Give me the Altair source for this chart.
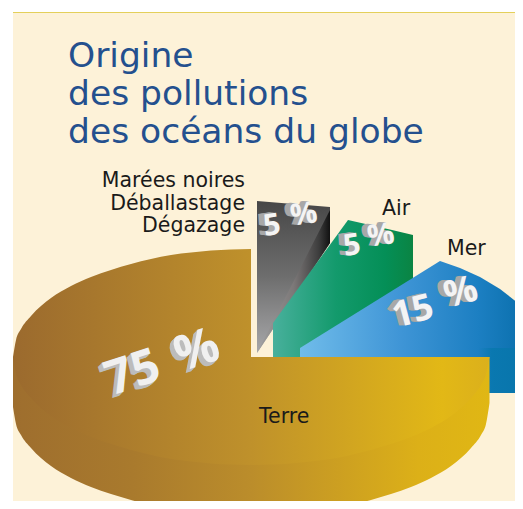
import altair as alt
import pandas as pd

FONT = "DejaVu Sans"
TITLE_LINES = ["Origine", "des pollutions", "des océans du globe"]
TITLE_BASE = [67, 105, 143]

PANEL_X = [13, 515]
PANEL_TOP = [13, 13]
PANEL_BOTTOM = [501, 501]
RULE_Y = [12, 12]

# Terre, left half of the disc
TL_X = [13, 16, 21, 31, 51, 71, 91, 111, 131, 151, 171, 191, 211, 231, 251]
TL_UP = [357, 340, 329, 316, 298, 286, 277, 270, 264, 259, 255, 252.5, 250.5, 249.4, 249]
TL_LOW = [357, 374, 385, 398, 416, 428, 437, 444, 450, 455, 459, 461.5, 463.5, 464.6, 465]
# Terre, right half of the disc
TR_X = [251, 271, 291, 311, 331, 351, 371, 391, 411, 431, 451, 471, 481, 486, 489.5]
TR_UP = [357] * 15
TR_LOW = [465, 464.6, 463.5, 461.5, 459, 455, 450, 444, 437, 428, 416, 398, 385, 374, 357]
# Terre, rim
RIM_X = [13, 16, 21, 31, 51, 71, 91, 111, 131, 151, 171, 191, 211, 231, 251, 271, 291, 311,
         331, 351, 371, 391, 411, 431, 451, 471, 481, 486, 489.5]
RIM_UP = [357] * 29
RIM_LOW = [407, 424, 435, 448, 466, 478, 487, 494, 500, 505, 508, 509, 509, 509, 509, 509, 509, 509,
           509, 505, 500, 494, 487, 478, 466, 448, 435, 424, 403]

# Mer
MER_X = [300, 440, 460, 480, 500, 523]
MER_UP = [348, 261, 268, 277, 289, 307]
MER_LOW = [348, 348, 348, 348, 348, 348]
MER_SIDE_X = [300, 523]
MER_SIDE_UP = [348, 348]
MER_SIDE_LOW = [393, 393]

# Air
AIR_X = [273, 348, 370, 392, 413]
AIR_UP = [323, 220, 225, 230, 235]
AIR_LOW = [357, 357, 357, 357, 357]

# Marées noires
NOIR_X = [257, 330]
NOIR_UP = [201, 207]
NOIR_LOW = [353, 243]
NOIR_F_X = [257, 330]
NOIR_F_UP = [353, 210]
NOIR_F_LOW = [353, 243]

LABEL_TEXT = ["Marées noires", "Déballastage", "Dégazage"]
LABEL_BASE = [187, 210, 232]
SLICE_NAMES = ["Air", "Mer", "Terre"]
SLICE_X = [382, 447, 259]
SLICE_BASE = [215, 255, 423]

PCT_TEXT = ["75", "%", "5", "%", "5", "%", "15", "%"]
PCT_X = [133, 197, 272, 304, 352, 381, 413, 461]
PCT_Y = [374, 351, 226, 215, 246, 236, 312, 293]
PCT_SIZE = [48, 49, 30, 30, 30, 30, 36, 37]
PCT_ANGLE = [342, 342, 352, 352, 352, 352, 345, 345]

xs = alt.Scale(domain=[8, 515], range=[0, 507], nice=False, zero=False)
ys = alt.Scale(domain=[8, 501], range=[0, 493], nice=False, zero=False)


def grad(stops, x1=0, y1=0, x2=1, y2=0):
    return alt.Gradient(
        gradient="linear", x1=x1, y1=y1, x2=x2, y2=y2,
        stops=[alt.GradientStop(color=c, offset=o) for o, c in stops],
    )


def shape(x, up, low, fill, interpolate="linear"):
    df = pd.DataFrame({"x": x, "up": up, "low": low})
    return alt.Chart(df).mark_area(fill=fill, interpolate=interpolate, clip=True).encode(
        x=alt.X("x:Q", scale=xs, axis=None),
        y=alt.Y("up:Q", scale=ys, axis=None),
        y2="low:Q",
    )


def text(rows, color, size, align="left", weight="normal"):
    df = pd.DataFrame(rows)
    return alt.Chart(df).mark_text(
        font=FONT, color=color, fontSize=size, align=align, baseline="alphabetic",
        fontWeight=weight,
    ).encode(
        x=alt.X("x:Q", scale=xs, axis=None),
        y=alt.Y("y:Q", scale=ys, axis=None),
        text="t:N",
    )


def pct_layer(idx, color, dx, dy):
    df = pd.DataFrame({"t": PCT_TEXT, "x": PCT_X, "y": PCT_Y, "s": PCT_SIZE, "a": PCT_ANGLE}).iloc[idx]
    return alt.Chart(df).mark_text(
        font="Open Sans", color=color, fontWeight="bold", align="center", baseline="middle", dx=dx, dy=dy,
    ).encode(
        x=alt.X("x:Q", scale=xs, axis=None),
        y=alt.Y("y:Q", scale=ys, axis=None),
        text="t:N",
        size=alt.Size("s:Q", scale=None, legend=None),
        angle=alt.Angle("a:Q", scale=None),
    )


layers = [
    shape(PANEL_X, PANEL_TOP, PANEL_BOTTOM, "#fdf2d8"),
    shape(PANEL_X, RULE_Y, PANEL_TOP, "#e4d05a"),
    shape(NOIR_X, NOIR_UP, NOIR_LOW,
          grad([(0, "#474747"), (0.5, "#6e6e6e"), (1, "#a8a8aa")], x1=0, y1=0, x2=0, y2=1)),
    shape(NOIR_F_X, NOIR_F_UP, NOIR_F_LOW,
          grad([(0, "#a0a0a0"), (0.5, "#7c7878"), (0.85, "#3c3c3c"), (1, "#111111")])),
    shape(AIR_X, AIR_UP, AIR_LOW,
          grad([(0, "#48b09c"), (0.45, "#139a6c"), (0.8, "#048f57"), (1, "#0a8443")])),
    shape(MER_SIDE_X, MER_SIDE_UP, MER_SIDE_LOW,
          grad([(0, "#70bcea"), (0.45, "#3f95d6"), (0.8, "#1c7fc2"), (0.86, "#0a78b0"), (1, "#0875ab")])),
    shape(MER_X, MER_UP, MER_LOW,
          grad([(0, "#70bcea"), (0.45, "#3f95d6"), (0.8, "#1c7fc2"), (1, "#0b70ad")])),
    shape(RIM_X, RIM_UP, RIM_LOW,
          grad([(0, "#9e6e2e"), (0.25, "#a97a2d"), (0.5, "#bb8d2b"), (0.85, "#dcb018"), (1, "#e0b714")]),
          interpolate="monotone"),
    shape(TL_X, TL_UP, TL_LOW, grad([(0, "#9b6a2e"), (1, "#bf912b")]), interpolate="monotone"),
    shape(TR_X, TR_UP, TR_LOW, grad([(0, "#bf912b"), (0.8, "#e2b816"), (1, "#dbb01c")]),
          interpolate="monotone"),
    text({"t": TITLE_LINES, "x": [68, 68, 68], "y": TITLE_BASE}, "#24508e", 34.5),
    text({"t": LABEL_TEXT, "x": [245, 245, 245], "y": LABEL_BASE}, "#1a1a1a", 20.5, align="right"),
    text({"t": SLICE_NAMES, "x": SLICE_X, "y": SLICE_BASE}, "#1a1a1a", 20.5),
]
BIG = [0, 1]
SMALL = [2, 3, 4, 5, 6, 7]
for step in (5, 4, 3, 2, 1):
    layers.append(pct_layer(BIG, "#bcbcbc", -step, step * 0.5))
    layers.append(pct_layer(SMALL, "#a8a8a8", -step * 1.2, -step * 0.3))
layers.append(pct_layer(BIG, "#f0f0f0", 0, 0))
layers.append(pct_layer(SMALL, "#f4f4f4", 0, 0))

chart = alt.layer(*layers).properties(
    width=507, height=493, padding=0, background="white"
).configure_view(stroke=None)

chart.save("out.html", embed_options={"renderer": "svg", "actions": False})
